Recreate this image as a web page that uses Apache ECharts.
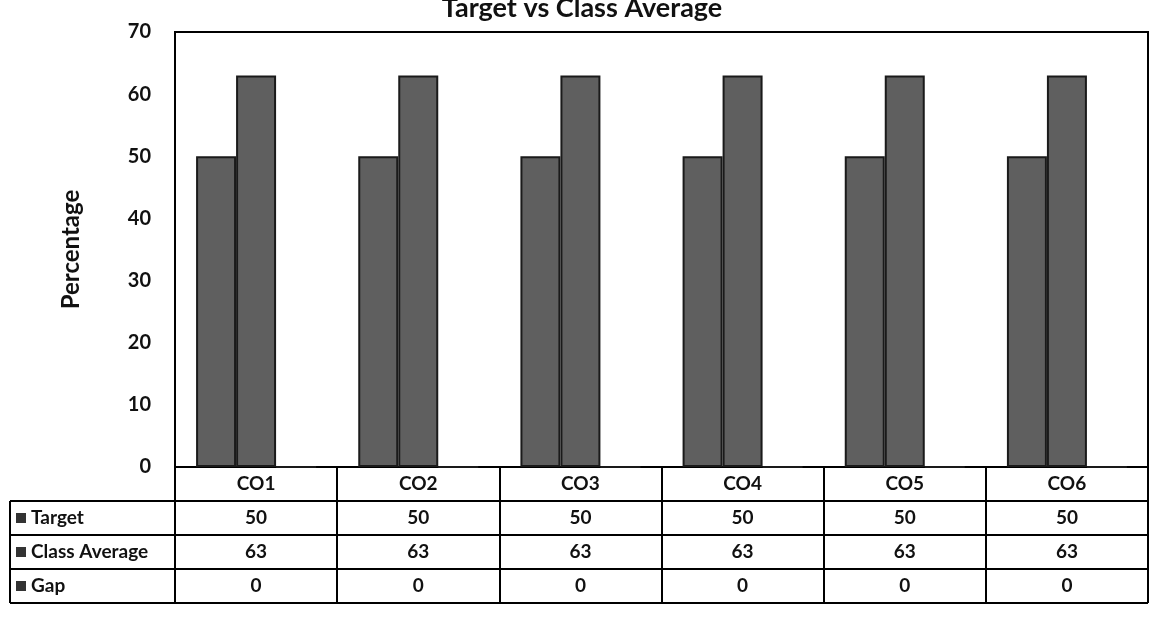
<!DOCTYPE html>
<html>
<head>
<meta charset="utf-8">
<script src="https://cdn.jsdelivr.net/npm/echarts@6/dist/echarts.min.js"></script>
<style>html,body{margin:0;padding:0;background:#fff}#c{width:1164px;height:625px}</style>
</head>
<body>
<div id="c"></div>
<script>
const categories = ['CO1', 'CO2', 'CO3', 'CO4', 'CO5', 'CO6'];
const target = [50, 50, 50, 50, 50, 50];
const classAverage = [63, 63, 63, 63, 63, 63];
const gap = [0, 0, 0, 0, 0, 0];
const seriesNames = ['Target', 'Class Average', 'Gap'];
const seriesData = [target, classAverage, gap];

const W = 1164, H = 625;
const G = { left: 175, right: 16, top: 32, bottom: 158 };
const ROW = 34;
const FONT = 'Lato, "Open Sans", sans-serif';
const axisY = H - G.bottom;
const barColor = '#5f5f5f';

const chart = echarts.init(document.getElementById('c'));

const graphic = [];
const x0 = 10, x1 = W - G.right;
for (let r = 1; r <= 4; r++) {
  const y = axisY + r * ROW;
  graphic.push({ type: 'line', shape: { x1: x0, y1: y, x2: x1, y2: y }, style: { stroke: '#000', lineWidth: 2 } });
}
graphic.push({ type: 'line', shape: { x1: x0, y1: axisY + ROW, x2: x0, y2: axisY + 4 * ROW }, style: { stroke: '#000', lineWidth: 2 } });
seriesNames.forEach((n, i) => {
  const cy = axisY + ROW * (i + 1) + ROW / 2;
  graphic.push({ type: 'rect', shape: { x: 16, y: cy - 5, width: 10, height: 10 }, style: { fill: '#333' } });
  graphic.push({ type: 'text', x: 31, y: cy, style: { text: n, font: 'bold 19px ' + FONT, fill: '#111', verticalAlign: 'middle' } });
});

chart.setOption({
  animation: false,
  title: {
    text: 'Target vs Class Average', left: 'center', top: -10,
    textStyle: { fontFamily: FONT, fontSize: 27, fontWeight: 'bold', color: '#111' }
  },
  grid: { left: G.left, right: G.right, top: G.top, bottom: G.bottom, show: true, borderColor: '#000', borderWidth: 2, backgroundColor: '#fff' },
  xAxis: {
    type: 'category', data: categories,
    axisLine: { show: true, lineStyle: { color: '#000', width: 2 } },
    axisTick: { show: true, length: ROW * 4, lineStyle: { color: '#000', width: 2 } },
    axisLabel: {
      interval: 0, margin: 0,
      formatter: (v, i) => [v, target[i], classAverage[i], gap[i]].join('\n'),
      fontFamily: FONT, fontSize: 19, fontWeight: 'bold', color: '#111', lineHeight: ROW,
      verticalAlign: 'top'
    }
  },
  yAxis: {
    type: 'value', min: 0, max: 70, interval: 10,
    name: 'Percentage', nameLocation: 'middle', nameRotate: 90, nameGap: 92,
    nameTextStyle: { fontFamily: FONT, fontSize: 24, fontWeight: 'bold', color: '#111' },
    axisLine: { show: false }, axisTick: { show: false },
    splitLine: { show: false },
    axisLabel: { margin: 24, fontFamily: FONT, fontSize: 20, fontWeight: 'bold', color: '#111' }
  },
  series: seriesNames.map((n, i) => ({
    name: n, type: 'bar', data: seriesData[i], barWidth: 40, barGap: '0%',
    itemStyle: { color: barColor, borderColor: '#1a1a1a', borderWidth: 2 }
  })),
  graphic: graphic
});
</script>
</body>
</html>
